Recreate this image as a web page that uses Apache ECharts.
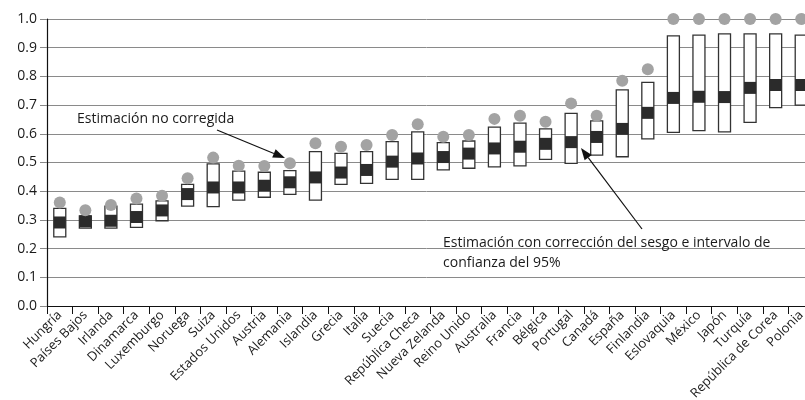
<!DOCTYPE html>
<html>
<head>
<meta charset="utf-8">
<script src="https://cdn.jsdelivr.net/npm/echarts@6/dist/echarts.min.js"></script>
<style>html,body{margin:0;padding:0;background:#fff;}#c{width:805px;height:400px;}</style>
</head>
<body>
<div id="c"></div>
<script>
var countries = ['Hungría','Países Bajos','Irlanda','Dinamarca','Luxemburgo','Noruega','Suiza','Estados Unidos','Austria','Alemania','Islandia','Grecia','Italia','Suecia','República Checa','Nueva Zelanda','Reino Unido','Australia','Francia','Bélgica','Portugal','Canadá','España','Finlandia','Eslovaquia','México','Japón','Turquía','República de Corea','Polonia'];
var uncorrected = [0.361,0.334,0.352,0.375,0.384,0.445,0.517,0.489,0.488,0.497,0.567,0.555,0.561,0.596,0.633,0.590,0.596,0.652,0.663,0.642,0.706,0.663,0.785,0.825,1.0,1.0,1.0,1.0,1.0,1.0];
var corrected = [0.291,0.295,0.297,0.310,0.333,0.390,0.413,0.413,0.419,0.431,0.448,0.465,0.474,0.503,0.514,0.519,0.531,0.549,0.555,0.565,0.571,0.589,0.617,0.673,0.725,0.729,0.728,0.760,0.770,0.770];
var ciLow = [0.241,0.271,0.271,0.274,0.297,0.348,0.346,0.369,0.379,0.389,0.369,0.424,0.427,0.441,0.441,0.474,0.480,0.485,0.488,0.511,0.497,0.526,0.520,0.582,0.605,0.611,0.607,0.640,0.691,0.700];
var ciHigh = [0.340,0.314,0.348,0.355,0.366,0.424,0.495,0.470,0.466,0.472,0.538,0.532,0.538,0.573,0.607,0.569,0.575,0.623,0.637,0.617,0.671,0.645,0.753,0.779,0.941,0.944,0.948,0.948,0.948,0.944];
var yTicks = [0,0.1,0.2,0.3,0.4,0.5,0.6,0.7,0.8,0.9,1.0];

var boxData = countries.map(function(c,i){ return [i, ciLow[i], ciHigh[i]]; });
var FONT = '"Open Sans", sans-serif';

function arrow(x1,y1,x2,y2){
  var dx=x2-x1, dy=y2-y1, L=Math.sqrt(dx*dx+dy*dy), ux=dx/L, uy=dy/L;
  var hl=12, hw=4.5;
  var bx=x2-hl*ux, by=y2-hl*uy;
  return [
    {type:'line', shape:{x1:x1,y1:y1,x2:bx,y2:by}, style:{stroke:'#111',lineWidth:1.2}, z:100},
    {type:'polygon', shape:{points:[[x2,y2],[bx-hw*uy,by+hw*ux],[bx+hw*uy,by-hw*ux]]}, style:{fill:'#111'}, z:100}
  ];
}

var chart = echarts.init(document.getElementById('c'));
var graphics = [
  {type:'text', left:77, top:112, style:{text:'Estimación no corregida', font:'14px ' + FONT, fill:'#1a1a1a'}, z:100},
  {type:'text', left:443, top:233, style:{text:'Estimación con corrección del sesgo e intervalo de\nconfianza del 95%', font:'14px ' + FONT, fill:'#1a1a1a', lineHeight:20}, z:100}
].concat(arrow(217,130,285,158)).concat(arrow(642,229,581,148));

chart.setOption({
  animation:false,
  grid:{left:47, top:19, width:767, height:287, containLabel:false, outerBoundsMode:'none'},
  xAxis:{
    type:'category', data:countries,
    axisLine:{lineStyle:{color:'#111', width:1.2}},
    axisTick:{show:true, length:8, lineStyle:{color:'#111'}, interval:0},
    axisLabel:{interval:0, rotate:45, fontSize:13, fontFamily:FONT, color:'#1a1a1a', margin:7}
  },
  yAxis:{
    type:'value', min:0, max:1, interval:0.1,
    axisLine:{show:true, lineStyle:{color:'#111', width:1.2}},
    axisTick:{show:true, length:7, inside:false, lineStyle:{color:'#888'}},
    axisLabel:{fontSize:14, fontFamily:FONT, color:'#1a1a1a', margin:10, formatter:function(v){return v.toFixed(1);}},
    splitLine:{show:true, lineStyle:{color:'#8a8a8a', width:1}}
  },
  graphic:graphics,
  series:[
    {
      type:'custom', data:boxData, z:2,
      renderItem:function(params, api){
        var lo = api.coord([api.value(0), api.value(1)]);
        var hi = api.coord([api.value(0), api.value(2)]);
        var w = 12;
        return {type:'rect', shape:{x:hi[0]-w/2, y:hi[1], width:w, height:lo[1]-hi[1]},
          style:{fill:'#fff', stroke:'#333', lineWidth:1.3}};
      },
      encode:{x:0, y:[1,2]}
    },
    {type:'scatter', data:corrected, symbol:'rect', symbolSize:[12,12], itemStyle:{color:'#2b2b2b', opacity:1}, z:3},
    {type:'scatter', data:uncorrected, symbol:'circle', symbolSize:12, itemStyle:{color:'#a3a3a3', opacity:1}, z:4}
  ]
});
</script>
</body>
</html>
